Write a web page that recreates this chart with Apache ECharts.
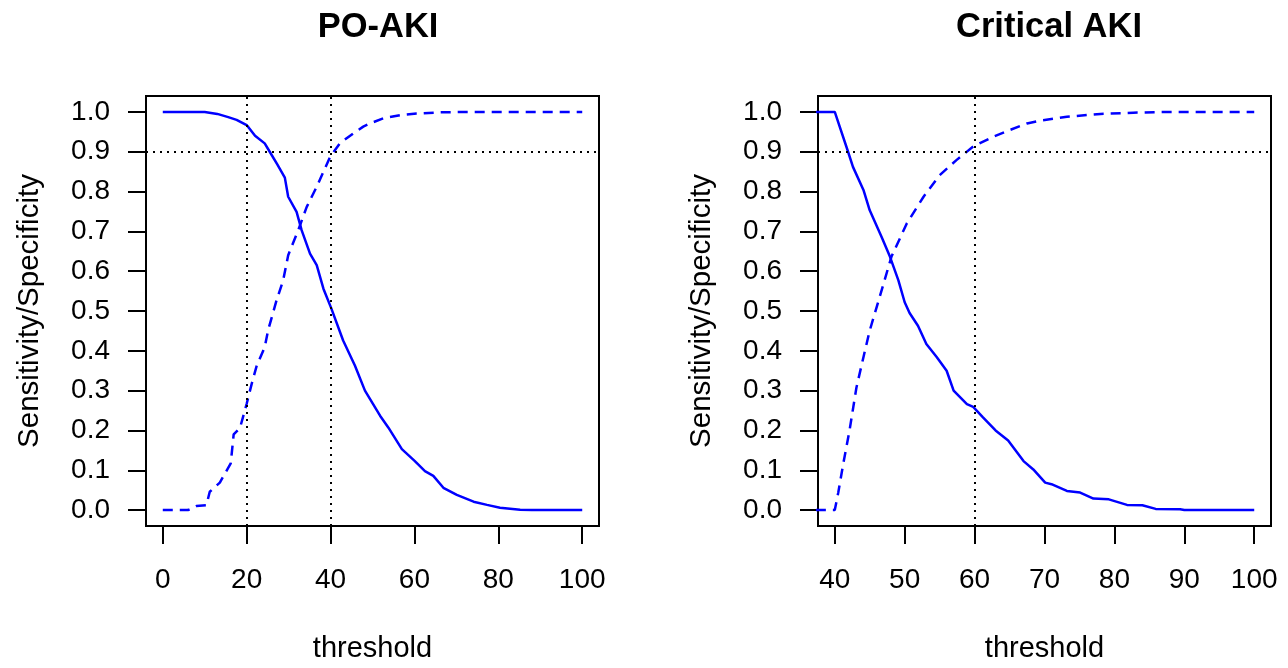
<!DOCTYPE html>
<html>
<head>
<meta charset="utf-8">
<script src="https://cdn.jsdelivr.net/npm/echarts@6/dist/echarts.min.js"></script>
<style>
  html, body { margin: 0; padding: 0; background: #fff; }
  #main { width: 1288px; height: 668px; }
</style>
</head>
<body>
<div id="main"></div>
<script>
// PO-AKI 面板
var poSensX = [0, 5, 10, 13, 15.6, 17.6, 20, 22, 24.3, 25.5, 27.3, 29.1, 29.9, 31.9, 33.1, 35.1, 36.7, 38.3, 40.2, 43, 45.8, 48.2, 51.8, 53.8, 57, 60.1, 62.5, 64.5, 66.9, 70.1, 74.1, 77.3, 80.4, 85.2, 88, 100];
var poSensY = [1, 1, 1, 0.995, 0.987, 0.98, 0.967, 0.94, 0.921, 0.9, 0.868, 0.835, 0.787, 0.749, 0.703, 0.644, 0.615, 0.556, 0.506, 0.426, 0.363, 0.30, 0.237, 0.207, 0.153, 0.123, 0.098, 0.086, 0.056, 0.038, 0.021, 0.013, 0.006, 0.001, 0, 0];
var poSpecX = [0, 6, 8, 10.4, 11.2, 13.6, 16.2, 16.9, 18.4, 20, 21.2, 22.4, 24.3, 25.1, 27.1, 28.7, 29.9, 32.3, 34.3, 36.7, 39.9, 42.2, 45.4, 47.8, 49.4, 52.6, 56.6, 60.5, 66.1, 72.5, 100];
var poSpecY = [0, 0, 0.01, 0.012, 0.046, 0.069, 0.117, 0.19, 0.206, 0.267, 0.317, 0.363, 0.409, 0.451, 0.526, 0.577, 0.64, 0.703, 0.761, 0.812, 0.887, 0.921, 0.946, 0.963, 0.971, 0.984, 0.992, 0.996, 0.999, 1, 1];
// Critical AKI 面板
var crSensX = [30, 40, 41.9, 42.6, 44.1, 45, 46.7, 47.9, 49.1, 50, 50.7, 51.9, 53.1, 54.6, 56, 57, 58.9, 59.8, 61.2, 63, 64.8, 67, 68.4, 70.1, 71, 73.2, 75.1, 77, 79.2, 81.8, 84, 85.9, 89.4, 90, 100];
var crSensY = [1, 1, 0.9, 0.862, 0.804, 0.753, 0.686, 0.636, 0.577, 0.522, 0.495, 0.463, 0.417, 0.384, 0.35, 0.30, 0.266, 0.259, 0.233, 0.2, 0.175, 0.123, 0.102, 0.069, 0.065, 0.048, 0.044, 0.029, 0.027, 0.013, 0.012, 0.003, 0.002, 0, 0];
var crSpecX = [30, 40, 40.5, 41.2, 42.1, 43.1, 44.1, 45, 46.2, 48.1, 50.3, 52.7, 55, 57.4, 59.8, 62.7, 65.1, 67.5, 69.4, 73.2, 78, 82.7, 87.5, 100];
var crSpecY = [0, 0, 0.044, 0.115, 0.199, 0.308, 0.384, 0.451, 0.522, 0.636, 0.72, 0.787, 0.841, 0.879, 0.913, 0.938, 0.955, 0.971, 0.978, 0.988, 0.995, 0.998, 1, 1];
// 刻度
var poTicks = [0, 20, 40, 60, 80, 100];
var crTicks = [40, 50, 60, 70, 80, 90, 100];
var yTicks = [0, 0.1, 0.2, 0.3, 0.4, 0.5, 0.6, 0.7, 0.8, 0.9, 1.0];
var titles = ['PO-AKI', 'Critical AKI'];
var poVLines = [20, 40];
var crVLines = [60];
var hLine = 0.9;

var FONT = "'Liberation Sans', Arial, sans-serif";

function zip(xs, ys) {
    var out = [];
    for (var i = 0; i < xs.length; i++) out.push([xs[i], ys[i]]);
    return out;
}

function xAxisCfg(idx, min, max, ticks) {
    return {
        type: 'value', gridIndex: idx, min: min, max: max, position: 'bottom',
        name: 'threshold', nameLocation: 'middle', nameGap: 108,
        nameTextStyle: { fontFamily: FONT, fontSize: 29, color: '#000' },
        axisLine: { show: false, onZero: false },
        axisTick: { show: true, inside: false, length: 18, customValues: ticks, lineStyle: { color: '#000', width: 2 } },
        axisLabel: { customValues: ticks, margin: 40, fontFamily: FONT, fontSize: 28, color: '#000' },
        splitLine: { show: false }
    };
}

function yAxisCfg(idx) {
    return {
        type: 'value', gridIndex: idx, min: -0.04, max: 1.04, position: 'left',
        name: 'Sensitivity/Specificity', nameLocation: 'middle', nameGap: 101,
        nameTextStyle: { fontFamily: FONT, fontSize: 29.5, color: '#000' },
        axisLine: { show: false, onZero: false },
        axisTick: { show: true, inside: false, length: 18, customValues: yTicks, lineStyle: { color: '#000', width: 2 } },
        axisLabel: {
            customValues: yTicks, margin: 36, fontFamily: FONT, fontSize: 28, color: '#000',
            formatter: function (v) { return v.toFixed(1); }
        },
        splitLine: { show: false }
    };
}

function refLines(vlines) {
    var data = vlines.map(function (v) { return { xAxis: v }; });
    data.push({ yAxis: hLine });
    return {
        silent: true, symbol: 'none', label: { show: false },
        lineStyle: { color: '#000', width: 2, type: [2, 5] },
        emphasis: { disabled: true },
        data: data
    };
}

function curve(idx, xs, ys, dashed, marks) {
    var s = {
        type: 'line', xAxisIndex: idx, yAxisIndex: idx,
        data: zip(xs, ys), showSymbol: false, clip: true, animation: false,
        lineStyle: { color: '#0000ff', width: 2.5, type: dashed ? [10, 7] : 'solid' }
    };
    if (marks) s.markLine = marks;
    return s;
}

var chart = echarts.init(document.getElementById('main'));
var option = {
    animation: false,
    title: [
        { text: titles[0], left: 373, top: 5, textAlign: 'center',
          textStyle: { fontFamily: FONT, fontSize: 34.5, fontWeight: 'bold', color: '#000' } },
        { text: titles[1], left: 1044, top: 5, textAlign: 'center',
          textStyle: { fontFamily: FONT, fontSize: 34.5, fontWeight: 'bold', color: '#000' } }
    ],
    grid: [
        { left: 146, right: 689, top: 96, bottom: 142, show: true, borderColor: '#000', borderWidth: 2, backgroundColor: 'transparent' },
        { left: 818, right: 17, top: 96, bottom: 142, show: true, borderColor: '#000', borderWidth: 2, backgroundColor: 'transparent' }
    ],
    xAxis: [xAxisCfg(0, -4, 104, poTicks), xAxisCfg(1, 37.6, 102.4, crTicks)],
    yAxis: [yAxisCfg(0), yAxisCfg(1)],
    series: [
        curve(0, poSensX, poSensY, false, refLines(poVLines)),
        curve(0, poSpecX, poSpecY, true),
        curve(1, crSensX, crSensY, false, refLines(crVLines)),
        curve(1, crSpecX, crSpecY, true)
    ]
};
chart.setOption(option);
</script>
</body>
</html>
